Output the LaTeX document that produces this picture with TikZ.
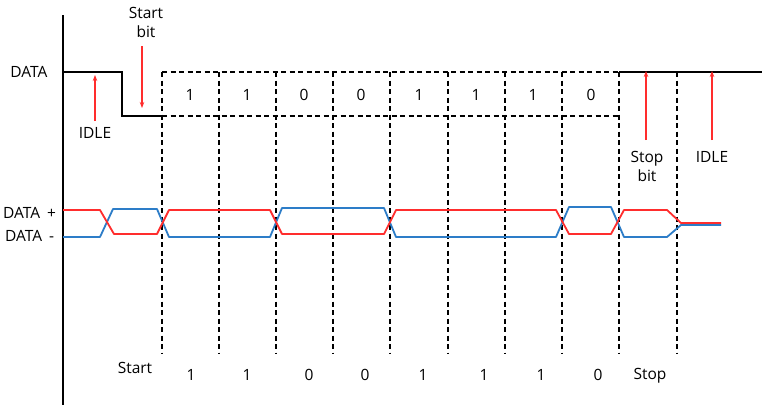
\documentclass[tikz,border=0pt]{standalone}
\usepackage{fontspec}
\setmainfont{Open Sans}
\usetikzlibrary{arrows.meta}
\definecolor{sigred}{RGB}{255,45,45}
\definecolor{sigblue}{RGB}{45,125,200}
\begin{document}
\begin{tikzpicture}[x=1pt,y=-1pt,
  lbl/.style={font=\fontsize{15.5}{19}\selectfont, inner sep=0pt, align=center},
  solidln/.style={line width=1.3pt, black},
  dashln/.style={line width=1.2pt, black, dash pattern=on 5pt off 3.5pt},
  redarrow/.style={line width=1.3pt, sigred, -{Stealth[length=6pt,width=4.5pt]}},
  sigline/.style={line width=1.8pt, line join=round}]
\useasboundingbox (0,0) rectangle (773,407);
\fill[white] (0,0) rectangle (773,407);

% axis
\coordinate (axT) at (63,15);
\coordinate (axB) at (63,405);
\draw[solidln] (axT) -- (axB);

% DATA idle/start line
\coordinate (d0) at (63,72);
\coordinate (d1) at (122,72);
\coordinate (d2) at (122,116);
\coordinate (d3) at (162,116);
\draw[solidln] (d0) -- (d1) -- (d2) -- (d3);

% dashed data box
\coordinate (bTL) at (162,72);
\coordinate (bTR) at (619,72);
\coordinate (bBL) at (162,116);
\coordinate (bBR) at (619,116);
\draw[dashln] (bTL) -- (bTR);
\draw[dashln] (bBL) -- (bBR);
\foreach \x [count=\i] in {162,219,276,333,390,448,505,562,619,677}{
  \coordinate (vt\i) at (\x,72);
  \coordinate (vb\i) at (\x,354);
  \draw[dashln] (vt\i) -- (vb\i);
}
% stop/idle high line
\coordinate (e1) at (762,72);
\draw[solidln] (bTR) -- (e1);

% labels left
\node[lbl] (lData) at (29,72) {DATA};
\node[lbl, anchor=west] (lDp) at (3,213) {DATA\hspace{7pt}+};
\node[lbl, anchor=west] (lDm) at (5,236) {DATA\hspace{7pt}-};

% top bit values
\foreach \x/\v [count=\i] in {190/1,247/1,304/0,361/0,419/1,476/1,533/1,591/0}{
  \node[lbl] (tb\i) at (\x,95) {\v};
}

% red annotation arrows
\node[lbl] (idleA) at (95,133) {IDLE};
\coordinate (idleAs) at (95,121);
\coordinate (idleAe) at (95,75);
\draw[redarrow] (idleAs) -- (idleAe);

\node[lbl] (startbit) at (146,22) {Start\\bit};
\coordinate (sbs) at (142,46);
\coordinate (sbe) at (142,108);
\draw[redarrow] (sbs) -- (sbe);

\node[lbl] (stopbit) at (647,166) {Stop\\bit};
\coordinate (stbs) at (646,140);
\coordinate (stbe) at (646,71);
\draw[redarrow] (stbs) -- (stbe);

\node[lbl] (idleB) at (712,157) {IDLE};
\coordinate (ibs) at (712,140);
\coordinate (ibe) at (712,71);
\draw[redarrow] (ibs) -- (ibe);

% differential signals
\draw[sigline, sigblue] (63,237) -- (100,237) -- (113,209) -- (157,209) -- (169,237)
  -- (270,237) -- (282,208) -- (384,208) -- (396,237) -- (556,237) -- (569,207)
  -- (611,207) -- (624,237) -- (667,237) -- (681,225) -- (721,225);
\draw[sigline, sigred] (63,210) -- (100,210) -- (114,234) -- (157,234) -- (169,210)
  -- (270,210) -- (282,234) -- (384,234) -- (396,210) -- (556,210) -- (569,234)
  -- (611,234) -- (624,210) -- (667,210) -- (681,223) -- (721,223);

% bottom labels
\node[lbl] (bStart) at (135,368) {Start};
\foreach \x/\v [count=\i] in {191/1,247/1,309/0,365/0,423/1,484/1,541/1,598/0}{
  \node[lbl] (bb\i) at (\x,375) {\v};
}
\node[lbl] (bStop) at (650,376) {Stop};
\end{tikzpicture}
\end{document}
